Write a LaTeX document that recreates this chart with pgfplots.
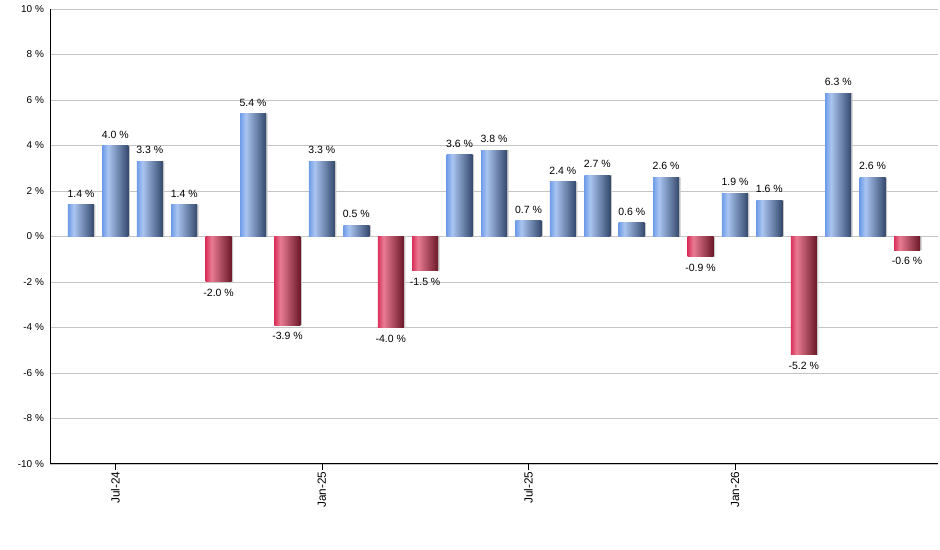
\documentclass[border=0pt]{standalone}
\usepackage{pgfplots}
\pgfplotsset{compat=1.18}
\usepackage{fontspec}
\setmainfont{Liberation Sans}
\definecolor{bA}{HTML}{6F9CE8}
\definecolor{bB}{HTML}{AAC5F1}
\definecolor{bC}{HTML}{34486C}
\definecolor{rA}{HTML}{D9305A}
\definecolor{rB}{HTML}{E97B93}
\definecolor{rC}{HTML}{6A1828}
\definecolor{gridc}{HTML}{C4C4C4}
\pgfdeclarehorizontalshading{bluebar}{100bp}{color(0bp)=(bA); color(25bp)=(bA); color(36bp)=(bB); color(75bp)=(bC); color(100bp)=(bC)}
\pgfdeclarehorizontalshading{redbar}{100bp}{color(0bp)=(rA); color(25bp)=(rA); color(36bp)=(rB); color(75bp)=(rC); color(100bp)=(rC)}
\newcommand\pbar[2]{\addplot[shading=bluebar, draw=none, bar shift=0pt] coordinates {(#1,#2)};}
\newcommand\nbar[2]{\addplot[shading=redbar, draw=none, bar shift=0pt] coordinates {(#1,#2)};}
\begin{document}
\begin{tikzpicture}[x=1bp,y=1bp]
\path[use as bounding box] (0,0) rectangle (940,550);
\begin{axis}[
  at={(50bp,86bp)}, anchor=south west,
  scale only axis, width=888bp, height=455bp,
  xmin=-0.9, xmax=24.9, ymin=-10, ymax=10,
  axis x line*=bottom, axis y line*=left,
  axis line style={black, line width=1pt, -},
  ytick={-10,-8,...,10},
  yticklabel={\pgfmathprintnumber{\tick}~\%},
  /pgf/number format/assume math mode=true,
  yticklabel style={font=\fontsize{10bp}{12bp}\selectfont, xshift=3.5bp},
  ytick style={draw=none},
  ymajorgrids, grid style={gridc, line width=0.8pt},
  xtick={1,7,13,19},
  xticklabels={Jul-24,Jan-25,Jul-25,Jan-26},
  xtick pos=lower, tick align=outside,
  xtick style={black, line width=0.8pt},
  major tick length=6bp,
  xticklabel style={rotate=90, anchor=east, font=\fontsize{11.8bp}{13bp}\selectfont, inner sep=1.5bp},
  ybar, bar width=26bp,
  nodes near coords={\pgfmathprintnumber[fixed,fixed zerofill,precision=1]{\pgfplotspointmeta}~\%},
  nodes near coords style={font=\fontsize{10.5bp}{12bp}\selectfont, black, outer sep=4bp},
  clip=false,
]
% shadows
\addplot[fill=gray!45, draw=none, bar shift=1.5bp, nodes near coords={}] coordinates {
(0,1.4) (1,4.0) (2,3.3) (3,1.4) (4,-2.0) (5,5.4) (6,-3.9) (7,3.3) (8,0.5) (9,-4.0) (10,-1.5) (11,3.6) (12,3.8) (13,0.7) (14,2.4) (15,2.7) (16,0.6) (17,2.6) (18,-0.9) (19,1.9) (20,1.6) (21,-5.2) (22,6.3) (23,2.6) (24,-0.6)};
% monthly returns
\pbar{0}{1.4}
\pbar{1}{4.0}
\pbar{2}{3.3}
\pbar{3}{1.4}
\nbar{4}{-2.0}
\pbar{5}{5.4}
\nbar{6}{-3.9}
\pbar{7}{3.3}
\pbar{8}{0.5}
\nbar{9}{-4.0}
\nbar{10}{-1.5}
\pbar{11}{3.6}
\pbar{12}{3.8}
\pbar{13}{0.7}
\pbar{14}{2.4}
\pbar{15}{2.7}
\pbar{16}{0.6}
\pbar{17}{2.6}
\nbar{18}{-0.9}
\pbar{19}{1.9}
\pbar{20}{1.6}
\nbar{21}{-5.2}
\pbar{22}{6.3}
\pbar{23}{2.6}
\nbar{24}{-0.6}
\end{axis}
\end{tikzpicture}
\end{document}
